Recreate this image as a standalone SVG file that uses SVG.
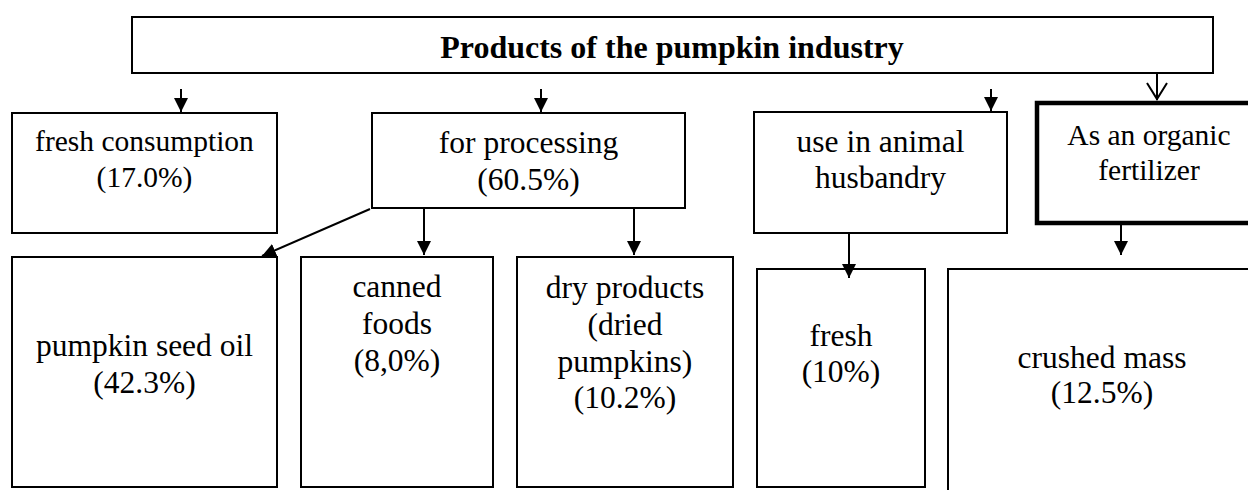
<svg xmlns="http://www.w3.org/2000/svg" width="1248" height="490" viewBox="0 0 1248 490">
  <style>
    .box { fill: #ffffff; stroke: #000000; stroke-width: 2; }
    .thick { fill: #ffffff; stroke: #000000; stroke-width: 4.5; }
    .lbl { font-family: "Liberation Serif", "Times New Roman", serif; font-size: 31.5px; fill: #000000; text-anchor: middle; }
    .sm { font-size: 29.5px; }
    .title { font-family: "Liberation Serif", "Times New Roman", serif; font-size: 32px; font-weight: bold; fill: #000000; text-anchor: middle; }
    .edge { stroke: #000000; stroke-width: 2; fill: none; }
  </style>
  <defs>
    <marker id="head" markerWidth="14" markerHeight="14" viewBox="0 0 14 14" refX="14" refY="7" orient="auto" markerUnits="userSpaceOnUse">
      <path d="M0,0 L14,7 L0,14 Z" fill="#000000"/>
    </marker>
  </defs>
  <rect width="1248" height="490" fill="#ffffff"/>

  <g id="title">
    <rect class="box" x="132" y="17" width="1081" height="56"/>
    <text class="title" x="672" y="58">Products of the pumpkin industry</text>
  </g>

  <g id="fresh-consumption">
    <rect class="box" x="12" y="113" width="265" height="120"/>
    <text class="lbl sm" x="144.5" y="151">fresh consumption</text>
    <text class="lbl sm" x="144.5" y="187">(17.0%)</text>
  </g>

  <g id="processing">
    <rect class="box" x="372" y="113" width="313" height="95"/>
    <text class="lbl" x="528.5" y="153">for processing</text>
    <text class="lbl" x="528.5" y="190">(60.5%)</text>
  </g>

  <g id="animal-husbandry">
    <rect class="box" x="754" y="112" width="253" height="121"/>
    <text class="lbl" x="880.5" y="152">use in animal</text>
    <text class="lbl" x="880.5" y="188">husbandry</text>
  </g>

  <g id="organic-fertilizer">
    <rect class="thick" x="1037" y="103" width="240" height="120"/>
    <text class="lbl sm" x="1149" y="145">As an organic</text>
    <text class="lbl sm" x="1149" y="180">fertilizer</text>
  </g>

  <g id="seed-oil">
    <rect class="box" x="12" y="257" width="265" height="230"/>
    <text class="lbl" x="144.5" y="356">pumpkin seed oil</text>
    <text class="lbl" x="144.5" y="393">(42.3%)</text>
  </g>

  <g id="canned-foods">
    <rect class="box" x="301" y="257" width="192" height="230"/>
    <text class="lbl" x="397" y="297">canned</text>
    <text class="lbl" x="397" y="334">foods</text>
    <text class="lbl" x="397" y="371">(8,0%)</text>
  </g>

  <g id="dry-products">
    <rect class="box" x="517" y="257" width="216" height="230"/>
    <text class="lbl" x="625" y="298">dry products</text>
    <text class="lbl" x="625" y="335">(dried</text>
    <text class="lbl" x="625" y="372">pumpkins)</text>
    <text class="lbl" x="625" y="408">(10.2%)</text>
  </g>

  <g id="fresh-feed">
    <rect class="box" x="757" y="269" width="168" height="218"/>
    <text class="lbl" x="841" y="346">fresh</text>
    <text class="lbl" x="841" y="382">(10%)</text>
  </g>

  <g id="crushed-mass">
    <rect class="box" x="948" y="269" width="320" height="240"/>
    <text class="lbl" x="1102" y="368">crushed mass</text>
    <text class="lbl" x="1102" y="403">(12.5%)</text>
  </g>

  <g id="connectors">
    <line class="edge" x1="181" y1="89" x2="181" y2="112" marker-end="url(#head)"/>
    <line class="edge" x1="541" y1="89" x2="541" y2="112" marker-end="url(#head)"/>
    <line class="edge" x1="991" y1="89" x2="991" y2="111" marker-end="url(#head)"/>
    <!-- open chevron arrow into the fertilizer box -->
    <line class="edge" x1="1157" y1="73" x2="1157" y2="100"/>
    <polyline class="edge" points="1147,83 1157,99 1167,83"/>
    <line class="edge" x1="370" y1="209" x2="262" y2="256" marker-end="url(#head)"/>
    <line class="edge" x1="424" y1="208" x2="424" y2="255" marker-end="url(#head)"/>
    <line class="edge" x1="634" y1="208" x2="634" y2="255" marker-end="url(#head)"/>
    <line class="edge" x1="849" y1="233" x2="849" y2="278" marker-end="url(#head)"/>
    <line class="edge" x1="1121" y1="225" x2="1121" y2="255" marker-end="url(#head)"/>
  </g>
</svg>
